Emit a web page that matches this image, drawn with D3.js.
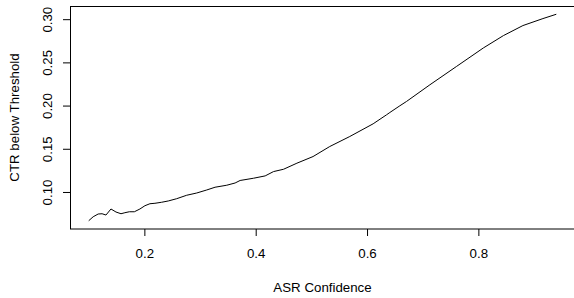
<!DOCTYPE html>
<html>
<head>
<meta charset="utf-8">
<script src="https://cdn.jsdelivr.net/npm/d3@7"></script>
<style>
    body { margin: 0; background: #fff; }
    text { font-family: "Liberation Sans", Arial, sans-serif; fill: #000; }
</style>
</head>
<body>
<div id="chart"></div>
<script>
"use strict";

// ASR confidence threshold (x) and CTR below threshold (y)
const confidence = [0.100, 0.108, 0.117, 0.124, 0.131, 0.140, 0.149, 0.158, 0.165, 0.173,
    0.182, 0.192, 0.201, 0.210, 0.219, 0.231, 0.243, 0.258, 0.276, 0.294,
    0.312, 0.327, 0.348, 0.363, 0.372, 0.396, 0.417, 0.432, 0.450, 0.474,
    0.503, 0.533, 0.569, 0.611, 0.635, 0.641, 0.659, 0.671, 0.713, 0.761,
    0.809, 0.845, 0.880, 0.916, 0.940];
const ctr = [0.0667, 0.0713, 0.0745, 0.0748, 0.0733, 0.0803, 0.0768, 0.0748, 0.0760, 0.0771,
    0.0771, 0.0803, 0.0841, 0.0864, 0.0869, 0.0881, 0.0896, 0.0922, 0.0962, 0.0988,
    0.1023, 0.1055, 0.1078, 0.1104, 0.1133, 0.1159, 0.1186, 0.1236, 0.1263, 0.1333,
    0.1410, 0.1526, 0.1642, 0.1789, 0.1893, 0.1920, 0.1998, 0.2048, 0.2241, 0.2454,
    0.2667, 0.2810, 0.2926, 0.3007, 0.3057];

const xTicks = [0.2, 0.4, 0.6, 0.8];
const yTicks = [0.10, 0.15, 0.20, 0.25, 0.30];

// Plot region, like R's default margins
let margin = { top: 6, right: -1, bottom: 69, left: 70 },
    width = 574 - margin.left - margin.right,
    height = 298 - margin.top - margin.bottom;

let svg = d3.select("#chart")
    .append("svg")
    .attr("width", 574)
    .attr("height", 298);

// R pads the data range by 4% on each side
let pad = function (ext) {
    let d = (ext[1] - ext[0]) * 0.04;
    return [ext[0] - d, ext[1] + d];
};

let x = d3.scaleLinear()
    .domain(pad(d3.extent(confidence)))
    .range([margin.left, margin.left + width]);
let y = d3.scaleLinear()
    .domain(pad(d3.extent(ctr)))
    .range([margin.top + height, margin.top]);

let points = confidence.map(function (c, i) {
    return [c, ctr[i]];
});

// Curve
svg.append("path")
    .datum(points)
    .attr("fill", "none")
    .attr("stroke", "#000")
    .attr("stroke-width", 1)
    .attr("stroke-linejoin", "round")
    .attr("d", d3.line()
        .x(function (d) { return x(d[0]); })
        .y(function (d) { return y(d[1]); }));

// Box
svg.append("rect")
    .attr("x", margin.left + 0.5)
    .attr("y", margin.top + 0.5)
    .attr("width", width)
    .attr("height", height - 0.5)
    .attr("fill", "none")
    .attr("stroke", "#000")
    .attr("stroke-width", 1);

// Bottom axis
let xAxis = svg.append("g")
    .attr("transform", "translate(0," + (margin.top + height) + ")")
    .call(d3.axisBottom(x)
        .tickValues(xTicks)
        .tickSize(7)
        .tickPadding(13)
        .tickFormat(d3.format(".1f")));
xAxis.select(".domain").remove();
xAxis.selectAll("text")
    .attr("font-size", "13.3px")
    .attr("font-family", "Liberation Sans, Arial, sans-serif")
    .attr("fill", "#000");

// Left axis, labels turned like R's las = 0
let yAxis = svg.append("g")
    .attr("transform", "translate(" + margin.left + ",0)")
    .call(d3.axisLeft(y)
        .tickValues(yTicks)
        .tickSize(7)
        .tickFormat(d3.format(".2f")));
yAxis.select(".domain").remove();
yAxis.selectAll("text")
    .attr("font-size", "13.3px")
    .attr("font-family", "Liberation Sans, Arial, sans-serif")
    .attr("fill", "#000")
    .attr("x", null)
    .attr("dy", null)
    .attr("text-anchor", "middle")
    .attr("transform", "translate(-18,0) rotate(-90)");

// Axis titles
svg.append("text")
    .attr("x", margin.left + width / 2)
    .attr("y", 291.5)
    .attr("text-anchor", "middle")
    .attr("font-size", "13.3px")
    .text("ASR Confidence");

svg.append("text")
    .attr("transform", "translate(19," + (margin.top + height / 2) + ") rotate(-90)")
    .attr("text-anchor", "middle")
    .attr("font-size", "13.3px")
    .text("CTR below Threshold");
</script>
</body>
</html>
